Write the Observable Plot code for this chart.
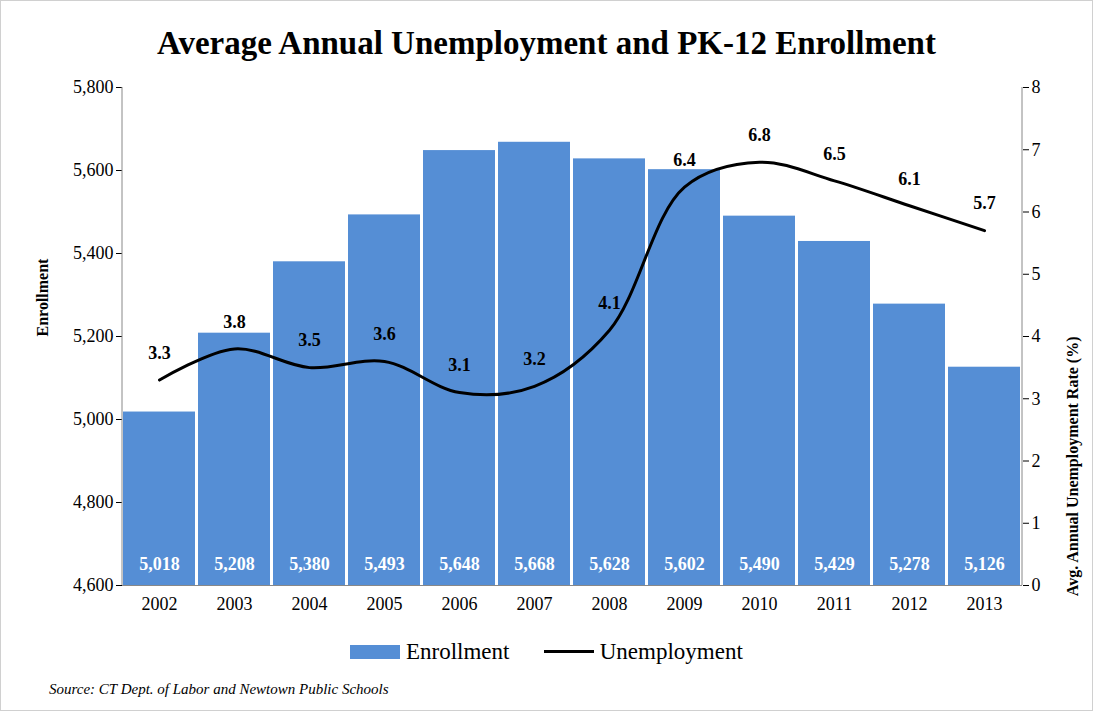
<!DOCTYPE html>
<html>
<head>
<meta charset="utf-8">
<script src="https://cdn.jsdelivr.net/npm/d3@7"></script>
<script src="https://cdn.jsdelivr.net/npm/@observablehq/plot@0.6"></script>
<style>
  body { margin: 0; background: #fff; font-family: "Liberation Serif", serif; }
  #wrap { width: 1091px; height: 709px; border: 1px solid #d0d0d0; position: relative; }
  h1 { margin: 0; padding-top: 24px; height: 46px; text-align: center; font-size: 33px; font-weight: bold; }
  #legend { position: absolute; top: 636px; left: 0; width: 100%; text-align: center; font-size: 23px; }
  #legend span { display: inline-block; vertical-align: middle; }
  #source { position: absolute; top: 680px; left: 48px; font-size: 15px; font-style: italic; }
</style>
</head>
<body>
<div id="wrap">
  <h1>Average Annual Unemployment and PK-12 Enrollment</h1>
  <div id="plot"></div>
  <div id="legend">
    <span style="width:50px;height:14px;background:#558ED5;"></span><span>&nbsp;Enrollment&nbsp;&nbsp;&nbsp;&nbsp;&nbsp;</span>
    <span style="width:50px;height:3px;background:#000;"></span><span>&nbsp;Unemployment</span>
  </div>
  <div id="source">Source: CT Dept. of Labor and Newtown Public Schools</div>
</div>
<script>
const years = ["2002","2003","2004","2005","2006","2007","2008","2009","2010","2011","2012","2013"];
const enrollment = [5018, 5208, 5380, 5493, 5648, 5668, 5628, 5602, 5490, 5429, 5278, 5126];
const unemployment = [3.3, 3.8, 3.5, 3.6, 3.1, 3.2, 4.1, 6.4, 6.8, 6.5, 6.1, 5.7];

// map unemployment (0-8) onto the enrollment scale (4600-5800)
const toLeft = u => 4600 + u * 150;
const data = years.map((y, i) => ({year: y, enr: enrollment[i], un: unemployment[i], unY: toLeft(unemployment[i])}));

const plot = Plot.plot({
  width: 1091,
  height: 554,
  marginTop: 16,
  marginLeft: 121,
  marginRight: 70,
  marginBottom: 40,
  style: {fontFamily: "Liberation Serif, serif", fontSize: "18px", color: "#000"},
  x: {domain: years, paddingInner: 0.04, paddingOuter: 0.01, label: null},
  y: {domain: [4600, 5800], label: null},
  marks: [
    Plot.barY(data, {x: "year", y1: 4600, y2: "enr", fill: "#558ED5"}),
    Plot.text(data, {x: "year", y: 4600, dy: -21, text: d => d3.format(",")(d.enr), fill: "white", fontWeight: "bold", fontSize: 18}),
    Plot.line(data, {x: "year", y: "unY", stroke: "black", strokeWidth: 3, curve: "catmull-rom"}),
    Plot.text(data, {x: "year", y: "unY", dy: -27, text: d => d.un.toFixed(1), fontWeight: "bold", fontSize: 18}),
    Plot.axisY({ticks: d3.range(4600, 5801, 200), tickFormat: d3.format(","), tickSize: 6, label: null}),
    Plot.axisY({anchor: "right", ticks: d3.range(0, 9).map(toLeft), tickFormat: v => (v - 4600) / 150, tickSize: 6, label: null}),
    Plot.axisX({tickSize: 0, tickPadding: 12, label: null}),
    Plot.ruleY([4600], {stroke: "#888"}),
    Plot.text(["Enrollment"], {frameAnchor: "left", dx: -80, rotate: -90, fontWeight: "bold", fontSize: 16}),
    Plot.text(["Avg. Annual Unemployment Rate (%)"], {frameAnchor: "right", dx: 50, rotate: -90, fontWeight: "bold", fontSize: 16})
  ]
});
document.getElementById("plot").append(plot);
// draw left and right axis lines
const svg = d3.select(plot);
[121, 1021].forEach(x => svg.append("line").attr("x1", x).attr("x2", x).attr("y1", 16).attr("y2", 514).attr("stroke", "#888"));
</script>
</body>
</html>
